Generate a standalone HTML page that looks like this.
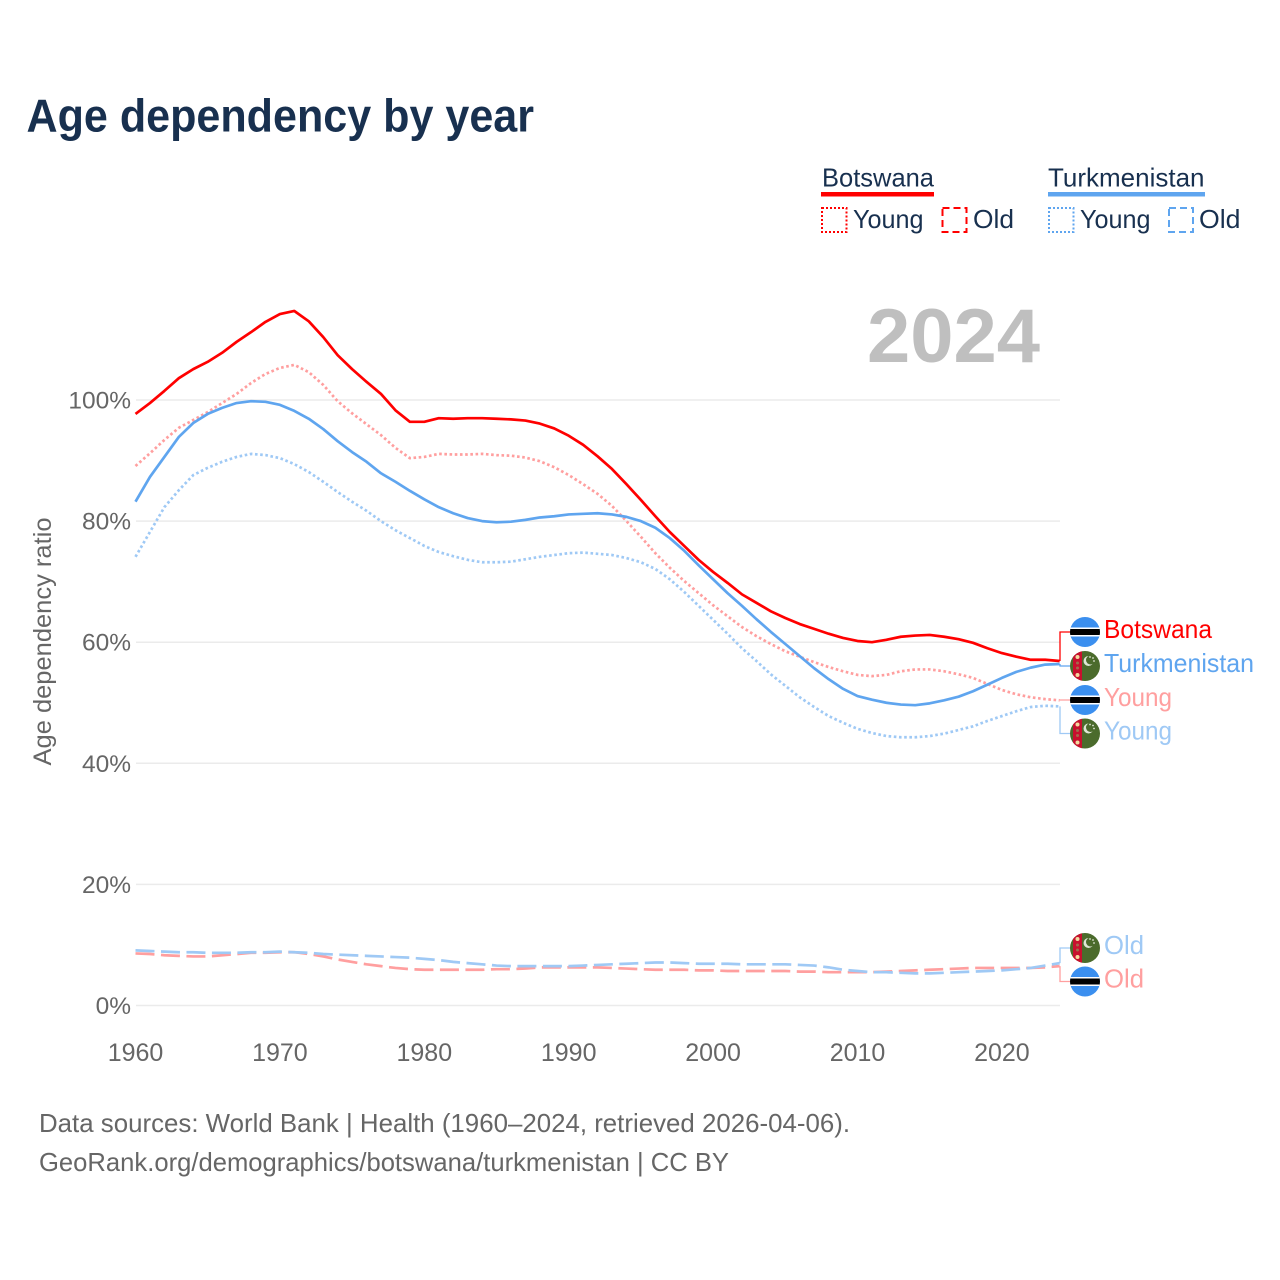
<!DOCTYPE html>
<html lang="en">
<head>
<meta charset="utf-8">
<title>Age dependency by year</title>
<style>
html,body{margin:0;padding:0;background:#fff;width:1280px;height:1280px;overflow:hidden}
svg{display:block}
text{font-family:"Liberation Sans",sans-serif}
</style>
</head>
<body>
<svg id="chart" xmlns="http://www.w3.org/2000/svg" width="1280" height="1280" viewBox="0 0 1280 1280">
  <defs>
    <clipPath id="flag-clip"><circle cx="0" cy="0" r="15"/></clipPath>
    <g id="flag-bw" clip-path="url(#flag-clip)">
      <rect x="-15" y="-15" width="30" height="30" fill="#3b8fef"/>
      <rect x="-15" y="-4.500" width="30" height="9" fill="#fff"/>
      <rect x="-15" y="-3" width="30" height="6" fill="#000"/>
    </g>
    <g id="flag-tm" clip-path="url(#flag-clip)">
      <rect x="-15" y="-15" width="30" height="30" fill="#4b6b2c"/>
      <rect x="-12" y="-15" width="9" height="30" fill="#c8102e"/>
      <circle cx="-7.500" cy="-9" r="2" fill="#f3d9a0"/>
      <circle cx="-7.500" cy="-3" r="1.500" fill="#a36b4b"/>
      <circle cx="-7.500" cy="2" r="1.500" fill="#a36b4b"/>
      <circle cx="-7.500" cy="9" r="2" fill="#f3d9a0"/>
      <circle cx="3.500" cy="-5" r="5" fill="#dfe6d6"/>
      <circle cx="5.500" cy="-6" r="4.500" fill="#4b6b2c"/>
      <circle cx="5" cy="-9" r="0.900" fill="#dfe6d6"/>
      <circle cx="8" cy="-8" r="0.900" fill="#dfe6d6"/>
      <circle cx="9" cy="-5" r="0.900" fill="#dfe6d6"/>
    </g>
  </defs>

  <text x="26.500" y="131.500" font-size="46" font-weight="700" fill="#18304f" textLength="507.500" lengthAdjust="spacingAndGlyphs">Age dependency by year</text>

  <g>
    <g>
      <text x="822" y="186.500" font-size="26" fill="#18304f" textLength="112" lengthAdjust="spacingAndGlyphs">Botswana</text>
      <rect x="821" y="192" width="113" height="4.500" fill="#ff0000"/>
      <rect x="822" y="208" width="24.500" height="24" fill="none" stroke="#ff0000" stroke-width="2" stroke-dasharray="2 2"/>
      <text x="853" y="228" font-size="26" fill="#18304f" textLength="70.500" lengthAdjust="spacingAndGlyphs">Young</text>
      <rect x="942.500" y="208" width="24" height="24" fill="none" stroke="#ff0000" stroke-width="2" stroke-dasharray="7 4"/>
      <text x="973" y="228" font-size="26" fill="#18304f" textLength="41" lengthAdjust="spacingAndGlyphs">Old</text>
    </g>
    <g>
      <text x="1048" y="186.500" font-size="26" fill="#18304f" textLength="156.500" lengthAdjust="spacingAndGlyphs">Turkmenistan</text>
      <rect x="1048" y="192" width="157" height="4.500" fill="#5fa5ef"/>
      <rect x="1049" y="208" width="24.500" height="24" fill="none" stroke="#5fa5ef" stroke-width="2" stroke-dasharray="2 2"/>
      <text x="1080" y="228" font-size="26" fill="#18304f" textLength="70.500" lengthAdjust="spacingAndGlyphs">Young</text>
      <rect x="1169" y="208" width="24" height="24" fill="none" stroke="#5fa5ef" stroke-width="2" stroke-dasharray="7 4"/>
      <text x="1199" y="228" font-size="26" fill="#18304f" textLength="41.500" lengthAdjust="spacingAndGlyphs">Old</text>
    </g>
  </g>

  <text x="1040" y="362" font-size="76" font-weight="700" fill="#bfbfbf" text-anchor="end" textLength="173" lengthAdjust="spacingAndGlyphs">2024</text>

  <text transform="translate(51 641.500) rotate(-90)" font-size="25" fill="#666666" text-anchor="middle" textLength="248" lengthAdjust="spacingAndGlyphs">Age dependency ratio</text>

  <g id="grid"></g>
  <g id="y-ticks"></g>
  <g id="x-ticks"></g>
  <g id="series"></g>
  <g id="end-labels"></g>

  <text x="39" y="1132" font-size="26" fill="#666666" textLength="811" lengthAdjust="spacingAndGlyphs">Data sources: World Bank | Health (1960–2024, retrieved 2026-04-06).</text>
  <text x="39" y="1171" font-size="26" fill="#666666" textLength="690" lengthAdjust="spacingAndGlyphs">GeoRank.org/demographics/botswana/turkmenistan | CC BY</text>
</svg>

<script>
const firstYear = 1960;
const xTickYears = [1960, 1970, 1980, 1990, 2000, 2010, 2020];
const yTickValues = [0, 20, 40, 60, 80, 100];

const botswanaTotal = [97.7,99.5,101.5,103.6,105.1,106.3,107.8,109.6,111.2,112.9,
  114.2,114.7,113,110.4,107.4,105.1,103,101,98.3,96.4,
  96.4,97,96.9,97,97,96.9,96.8,96.6,96.1,95.3,
  94.1,92.6,90.7,88.6,86.1,83.5,80.8,78.2,75.9,73.6,
  71.6,69.8,67.9,66.5,65.1,64,63,62.2,61.4,60.7,
  60.2,60,60.4,60.9,61.1,61.2,60.9,60.5,59.9,59,
  58.2,57.6,57.1,57.1,56.9];
const botswanaYoung = [89.1,91.2,93.4,95.4,96.7,98,99.5,101,102.8,104.3,
  105.3,105.8,104.6,102.5,99.8,97.8,96,94.2,92.1,90.4,
  90.6,91.1,91,91,91.1,90.9,90.8,90.5,89.9,88.9,
  87.6,86.1,84.5,82.5,80,77.4,74.7,72.3,70.1,68.1,
  66.1,64.3,62.5,61,59.7,58.5,57.6,56.7,55.9,55.2,
  54.6,54.4,54.6,55.2,55.5,55.5,55.2,54.7,54.1,53.1,
  52.1,51.4,50.9,50.6,50.4];
const botswanaOld = [8.6,8.5,8.3,8.2,8.1,8.1,8.3,8.5,8.7,8.7,
  8.8,8.8,8.5,8.1,7.6,7.2,6.8,6.5,6.2,6,
  5.9,5.9,5.9,5.9,5.9,6,6,6.1,6.3,6.3,
  6.3,6.3,6.3,6.2,6.1,6,5.9,5.9,5.9,5.8,
  5.8,5.7,5.7,5.7,5.7,5.7,5.6,5.6,5.5,5.5,
  5.5,5.5,5.6,5.7,5.8,5.9,6,6.1,6.2,6.2,
  6.2,6.2,6.2,6.3,6.5];
const turkmenistanTotal = [83.2,87.3,90.6,93.9,96.2,97.7,98.7,99.5,99.8,99.7,
  99.2,98.2,96.9,95.2,93.2,91.4,89.8,87.9,86.5,85,
  83.6,82.3,81.3,80.5,80,79.8,79.9,80.2,80.6,80.8,
  81.1,81.2,81.3,81.1,80.7,80,78.9,77.2,75.1,72.7,
  70.4,68.1,66,63.8,61.7,59.7,57.7,55.7,53.9,52.3,
  51.1,50.5,50,49.7,49.6,49.9,50.4,51,51.9,53,
  54.1,55.1,55.8,56.3,56.4];
const turkmenistanYoung = [74.1,78.2,82.3,85.1,87.6,88.8,89.8,90.6,91.1,90.9,
  90.4,89.4,88.1,86.5,84.8,83.2,81.7,80,78.5,77.2,
  75.9,74.9,74.2,73.6,73.2,73.2,73.3,73.7,74.1,74.4,
  74.7,74.8,74.6,74.4,73.9,73.2,72.1,70.4,68.3,66,
  63.7,61.4,59,56.9,54.7,52.8,50.9,49.3,47.8,46.7,
  45.7,45,44.5,44.3,44.3,44.5,44.9,45.5,46.1,47,
  47.8,48.6,49.3,49.5,49.4];
const turkmenistanOld = [9.1,9,8.9,8.8,8.8,8.7,8.7,8.7,8.8,8.8,
  8.9,8.8,8.7,8.5,8.4,8.3,8.2,8.1,8,7.9,
  7.7,7.5,7.2,7,6.8,6.6,6.5,6.5,6.5,6.5,
  6.5,6.6,6.7,6.8,6.9,7,7.1,7.1,7,6.9,
  6.9,6.9,6.8,6.8,6.8,6.8,6.7,6.6,6.3,5.9,
  5.7,5.5,5.5,5.4,5.3,5.3,5.4,5.5,5.6,5.7,
  5.8,6,6.2,6.6,7];

const NS = 'http://www.w3.org/2000/svg';
const RED = '#ff0000', BLUE = '#5fa5ef', PINK = '#ff9f9f', SKY = '#9fc9f5';

function xScale(year) { return 135.5 + (year - firstYear) * 14.44; }
function yScale(value) { return 1005.5 - value * 6.055; }
function make(tag, attrs, parent) {
  const el = document.createElementNS(NS, tag);
  for (const k in attrs) el.setAttribute(k, attrs[k]);
  parent.appendChild(el);
  return el;
}

const gridGroup = document.getElementById('grid');
const yTickGroup = document.getElementById('y-ticks');
yTickValues.forEach(function (v) {
  const line = make('line', {x1: 136, x2: 1060, y1: yScale(v), y2: yScale(v), stroke: '#ebebeb', 'stroke-width': 1.5}, gridGroup);
  
  
  const t = make('text', {x: 131, y: yScale(v) + 8.5, 'font-size': 24.5, fill: '#666666', 'text-anchor': 'end'}, yTickGroup);
  t.textContent = v + '%';
  
  
});

const xTickGroup = document.getElementById('x-ticks');
xTickYears.forEach(function (year) {
  const t = make('text', {x: xScale(year), y: 1061, 'font-size': 25, fill: '#666666', 'text-anchor': 'middle'}, xTickGroup);
  t.textContent = year;
  
  
});

const seriesDefs = [
  {id: 'botswana-old-line', values: botswanaOld, color: PINK, width: 2.7, dash: '19 6.500'},
  {id: 'turkmenistan-old-line', values: turkmenistanOld, color: SKY, width: 2.7, dash: '19 6.500'},
  {id: 'botswana-young-line', values: botswanaYoung, color: PINK, width: 2.7, dash: '2.600 2.600'},
  {id: 'turkmenistan-young-line', values: turkmenistanYoung, color: SKY, width: 2.7, dash: '2.600 2.600'},
  {id: 'turkmenistan-total-line', values: turkmenistanTotal, color: BLUE, width: 2.7, dash: null},
  {id: 'botswana-total-line', values: botswanaTotal, color: RED, width: 2.7, dash: null}
];
const seriesGroup = document.getElementById('series');
seriesDefs.forEach(function (s) {
  const pts = s.values.map(function (v, i) {
    return xScale(firstYear + i).toFixed(2) + ',' + yScale(v).toFixed(2);
  }).join(' ');
  const attrs = {points: pts, fill: 'none', stroke: s.color, 'stroke-width': s.width, 'stroke-linejoin': 'round'};
  if (s.dash) attrs['stroke-dasharray'] = s.dash;
  const line = make('polyline', attrs, seriesGroup);
  
  
});

const endLabels = [
  {text: 'Botswana', cy: 632, values: botswanaTotal, color: RED, flag: 'flag-bw', lw: 108},
  {text: 'Turkmenistan', cy: 666, values: turkmenistanTotal, color: BLUE, flag: 'flag-tm', lw: 150},
  {text: 'Young', cy: 700, values: botswanaYoung, color: PINK, flag: 'flag-bw', lw: 68},
  {text: 'Young', cy: 733.5, values: turkmenistanYoung, color: SKY, flag: 'flag-tm', lw: 68},
  {text: 'Old', cy: 948, values: turkmenistanOld, color: SKY, flag: 'flag-tm', lw: 40},
  {text: 'Old', cy: 981.5, values: botswanaOld, color: PINK, flag: 'flag-bw', lw: 40}
];
const endGroup = document.getElementById('end-labels');
endLabels.forEach(function (d) {
  const y0 = yScale(d.values[d.values.length - 1]);
  const conn = make('polyline', {points: '1060,' + y0.toFixed(2) + ' 1060,' + d.cy + ' 1072,' + d.cy, fill: 'none', stroke: d.color, 'stroke-width': 1.3}, endGroup);
  
  
  const flag = make('use', {href: '#' + d.flag, transform: 'translate(1085 ' + d.cy + ')'}, endGroup);
  
  
  const t = make('text', {x: 1104, y: d.cy + 6, 'font-size': 26, fill: d.color, textLength: d.lw, lengthAdjust: 'spacingAndGlyphs'}, endGroup);
  t.textContent = d.text;
  
  
});
</script>
</body>
</html>
